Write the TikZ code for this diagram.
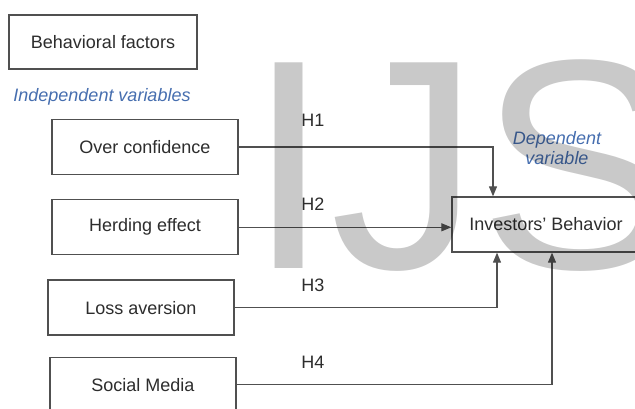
\documentclass[tikz,border=0pt]{standalone}
\usepackage{fontspec}
\setmainfont{Liberation Sans}
\usepackage{tikz}
\usetikzlibrary{positioning, arrows.meta, calc}
\definecolor{inkgrey}{RGB}{45,45,45}
\definecolor{linegrey}{RGB}{80,80,80}
\definecolor{varblue}{RGB}{70,110,175}
\tikzset{
    fbox/.style={
        draw=linegrey, line width=1.3pt, fill=white,
        minimum width=186pt, minimum height=55pt,
        inner sep=0pt, text=inkgrey,
        font=\fontsize{18}{21}\selectfont, align=center
    },
    head-box/.style={fbox, minimum width=188pt, minimum height=54pt},
    dep-box/.style={fbox, minimum width=188pt},
    varnote/.style={
        font=\fontsize{18}{20}\selectfont\itshape, text=varblue,
        align=center, inner sep=0pt
    },
    hlabel/.style={font=\fontsize{18}{21}\selectfont, text=inkgrey, inner sep=0pt},
    link/.style={
        -{Triangle[length=10pt, width=8pt]},
        line width=1.1pt, draw=linegrey
    },
    wmark/.style={
        font=\fontsize{299}{299}\selectfont, text=black,
        text opacity=0.21, inner sep=0pt, anchor=base west
    },
}

\begin{document}
\begin{tikzpicture}[x=1pt, y=-1pt]
\useasboundingbox (0,0) rectangle (635,409);
\clip (0,0) rectangle (635,409);

% ---- heading and independent variables ----
\node[head-box] (f-head) at (103,42) {Behavioral factors};
\node[varnote] (f-note) at (102,97) {Independent variables};
\node[fbox] (f-oc) at (145,147) {Over confidence};
\node[fbox, below=24pt of f-oc] (f-herd) {Herding effect};
\node[fbox, below=24pt of f-herd, xshift=-4pt] (f-loss) {Loss aversion};
\node[fbox, below=21pt of f-loss, xshift=2pt] (f-soc) {Social Media};

% ---- dependent variable ----
\node[dep-box] (d-inv) at (546,224.5) {Investors' Behavior};
\node[varnote] (d-note) at (557,148) {Dependent\\variable};

% ---- hypotheses ----
\draw[link] (f-oc.east) -| ([xshift=-53pt]d-inv.north);
\draw[link] (f-herd.east) -- (f-herd.east -| d-inv.west);
\draw[link] (f-loss.east) -| ([xshift=-49pt]d-inv.south);
\draw[link] (f-soc.east) -| ([xshift=6pt]d-inv.south);
\node[hlabel] (h1) at (313,120) {H1};
\node[hlabel] (h2) at (313,204) {H2};
\node[hlabel] (h3) at (313,285) {H3};
\node[hlabel] (h4) at (313,362) {H4};

% ---- watermark ----
\node[wmark] (wm) at (247,269) {IJS};

\end{tikzpicture}
\end{document}
